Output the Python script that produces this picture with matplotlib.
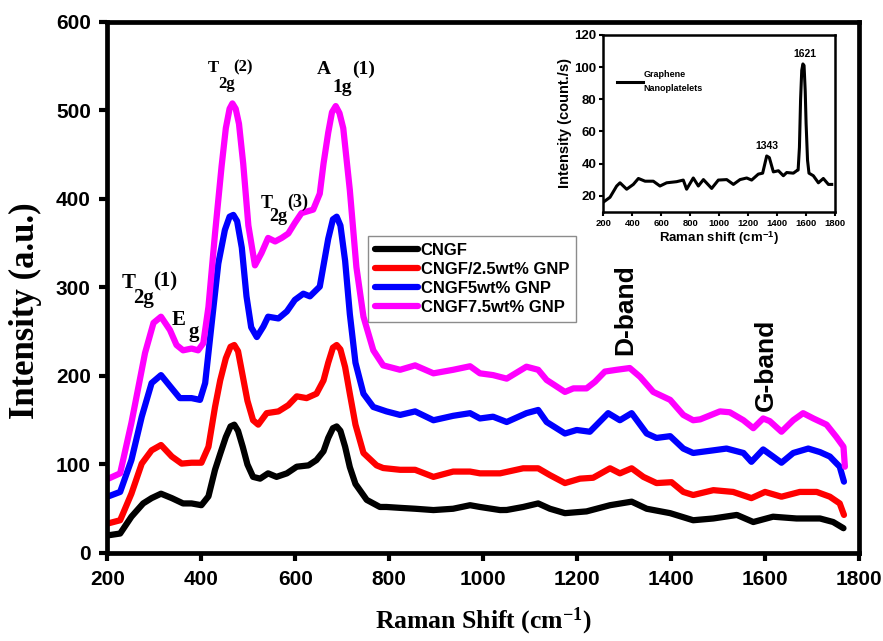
import matplotlib
matplotlib.use("Agg")
import matplotlib.pyplot as plt

SANS = ['Liberation Sans', 'DejaVu Sans']
SERIF = ['Liberation Serif', 'DejaVu Serif']
plt.rcParams['mathtext.fontset'] = 'custom'
plt.rcParams['mathtext.rm'] = 'Liberation Serif:bold'
plt.rcParams['mathtext.bf'] = 'Liberation Serif:bold'
plt.rcParams['mathtext.it'] = 'Liberation Serif:bold:italic'
plt.rcParams['mathtext.sf'] = 'Liberation Sans:bold'

# ---------------- data ----------------
cngf_x = [202,227,251,276,294,314,337,361,379,400,415,429,440,452,462,470,478,488,498,510,525,542,560,582,603,628,645,660,670,680,688,696,706,716,728,752,780,794,823,855,894,936,972,993,1036,1050,1085,1117,1142,1174,1220,1270,1316,1348,1398,1447,1490,1540,1575,1617,1667,1717,1745,1767]
cngf_y = [20,22,41,56,62,67,62,56,56,54,64,94,112,131,143,145,138,120,100,86,84,90,86,90,97.5,99,105,115,130,141,143,138,120,97,78,60,52,52,51,50,48.5,50,54,52,48.5,48.6,52,56,50,45,47,54,58,50,45,37,39,43,35,41,39,39,35,28]

gnp25_x = [202,227,251,273,294,314,337,358,379,400,415,429,440,452,462,470,478,488,498,510,521,539,564,585,603,624,645,660,670,680,688,696,706,716,728,745,773,787,823,855,894,936,972,993,1036,1085,1117,1142,1174,1206,1234,1270,1291,1316,1341,1369,1401,1426,1447,1490,1532,1571,1600,1635,1674,1710,1738,1759,1768]
gnp25_y = [33.5,37,67,101,116,122,109,101,102,102,120,165,195,220,233,235,228,200,172,150,145,158,160,167,177,175,180,195,215,232,235,230,210,180,145,113,99,96,94,94,86,92,92,90,90,95.7,95.7,88,79,84,85,95.7,90,95.7,86,79,80,69,65.5,71,69,62,69,63.6,69,69,63.6,56,43]

gnp5_x = [202,227,251,273,294,314,337,354,379,397,408,422,436,450,460,468,476,486,496,506,518,532,542,564,582,599,617,631,652,660,670,680,688,696,706,716,728,745,766,794,823,855,894,936,972,993,1021,1050,1092,1117,1135,1174,1199,1227,1266,1291,1316,1348,1369,1398,1426,1447,1490,1518,1554,1571,1596,1617,1635,1660,1692,1717,1738,1759,1768]
gnp5_y = [64,69,105,154,192,201,186,175,175,173,192,260,327,365,380,382,375,345,290,255,244,256,267,265,273,286,293,290,301,325,355,377,380,370,330,270,215,180,165,160,156,160,150,155,158,152,154,148,158,161.6,148,135,139,137,158,150,158,135,130,132,118,113,116,118,113,103,117,109,102,113,118,114,109,97.5,80.6]

gnp75_x = [202,227,251,280,298,314,333,347,361,379,393,404,415,429,443,452,460,466,473,480,489,500,514,528,542,557,571,585,599,613,638,652,660,670,678,686,694,702,716,730,745,766,787,823,855,894,936,972,993,1021,1050,1092,1117,1135,1174,1192,1220,1238,1259,1284,1312,1334,1362,1398,1426,1447,1462,1504,1525,1554,1575,1596,1610,1635,1660,1681,1703,1731,1752,1767,1770]
gnp75_y = [84,90,147,226,260,267,252,235,229,231,229,237,278,361,437,480,502,508,502,485,440,370,325,339,356,352,356,361,373,384,388,406,440,475,498,505,497,480,410,323,267,229,212,207,212,203,207,211,203,201,197,210.5,207,195.5,182,186,186,193.5,205,207,209,199,182,173,156,150,151,160,159,150,141,152,149,137,150,158,152,145,131,120,97.5]

inset_x = [205,246,292,315,361,407,442,488,545,591,637,706,752,775,821,856,891,948,994,1052,1098,1144,1190,1224,1270,1300,1328,1346,1374,1409,1443,1466,1512,1535,1545,1554,1562,1570,1578,1586,1594,1600,1610,1620,1650,1685,1719,1754,1777]
inset_y = [16.3,19,26,28,24,27,30.7,29,29,26,28,28.7,29.7,24,31,26,30,24.5,29.7,30,27,30,31,29.7,33.4,34,44.7,43.7,34.8,35.5,32.4,34.4,34,35.5,36,50,80,98,102,101,85,65,42,34,32.4,28,30.7,27,27]

series = [
    ("CNGF", cngf_x, cngf_y, "#000000"),
    ("CNGF/2.5wt% GNP", gnp25_x, gnp25_y, "#ff0000"),
    ("CNGF5wt% GNP", gnp5_x, gnp5_y, "#0000ff"),
    ("CNGF7.5wt% GNP", gnp75_x, gnp75_y, "#ff00ff"),
]
x_ticks = [200, 400, 600, 800, 1000, 1200, 1400, 1600, 1800]
y_ticks = [0, 100, 200, 300, 400, 500, 600]
inset_yticks = [20, 40, 60, 80, 100, 120]

# ---------------- figure ----------------
fig = plt.figure(figsize=(8.83, 6.41), dpi=100)
ax = fig.add_axes([0.1217, 0.1373, 0.8511, 0.8284])

for label, xs, ys, c in series:
    ax.plot(xs, ys, color=c, lw=4.5, label=label, solid_joinstyle='round', solid_capstyle='round')

ax.set_xlim(200, 1800)
ax.set_ylim(0, 600)
ax.set_xticks(x_ticks)
ax.set_yticks(y_ticks)
for s in ax.spines.values():
    s.set_linewidth(3.4)
ax.tick_params(direction='out', length=6, width=3, pad=6)
for t in ax.get_xticklabels() + ax.get_yticklabels():
    t.set_family(SANS)
    t.set_fontweight('bold')
    t.set_fontsize(15)

ax.set_xlabel("Raman Shift (cm$^{-1}$)", family=SERIF, fontweight='bold', fontsize=18.5, va='top')
ax.xaxis.set_label_coords(0.4997, -0.1)
ax.set_ylabel("Intensity (a.u.)", family=SERIF, fontweight='bold', fontsize=25)
ax.yaxis.set_label_coords(-0.0872, 0.456)

leg = fig.legend(loc='upper left', bbox_to_anchor=(0.4168, 0.6318), bbox_transform=fig.transFigure,
                 prop={'family': SANS, 'weight': 'bold', 'size': 12}, frameon=True, fancybox=False,
                 edgecolor='#707070', handlelength=2.6, handletextpad=0.15, labelspacing=0.25,
                 borderpad=0.4, borderaxespad=0)
leg.get_frame().set_linewidth(1.0)

# peak annotations (serif bold)
def ann(x, y, s, size):
    ax.text(x, y, s, ha='center', va='center', family=SERIF, fontweight='bold', fontsize=size)

ann(244, 305, "T", 15); ann(276, 288, "2g", 15); ann(322, 307, "(1)", 15)
ann(351, 263, "E", 15); ann(383, 250, "g", 15)
ann(425, 548, "T", 12); ann(454, 530, "2g", 12); ann(489, 549, "(2)", 12)
ann(661, 546, "A", 14); ann(699, 526, "1g", 14); ann(745, 547, "(1)", 14)
ann(539, 395, "T", 13); ann(564, 380, "2g", 13); ann(606, 396, "(3)", 13)

ax.text(1302, 275, "D-band", rotation=90, ha='center', va='center', family=SANS, fontweight='bold', fontsize=19)
ax.text(1602, 212, "G-band", rotation=90, ha='center', va='center', family=SANS, fontweight='bold', fontsize=19)

# ---------------- inset ----------------
ins = fig.add_axes([0.6833, 0.6697, 0.2624, 0.2757])
ins.plot(inset_x, inset_y, color='black', lw=2.2, label="Graphene\nNanoplatelets",
         solid_joinstyle='round')
ins.set_xlim(200, 1800)
ins.set_ylim(10, 120)
ins.set_xticks(x_ticks)
ins.set_yticks(inset_yticks)
for s in ins.spines.values():
    s.set_linewidth(1.8)
ins.tick_params(direction='out', length=3, width=1.5, pad=2)
for t in ins.get_xticklabels():
    t.set_family(SANS); t.set_fontweight('bold'); t.set_fontsize(6.8)
for t in ins.get_yticklabels():
    t.set_family(SANS); t.set_fontweight('bold'); t.set_fontsize(9.5)
ins.set_xlabel("Raman shift (cm$^{\\mathsf{-1}}$)", family=SANS, fontweight='bold', fontsize=9.5, labelpad=1)
ins.set_ylabel("Intensity (count./s)", family=SANS, fontweight='bold', fontsize=10.5, labelpad=2)
ins.text(1328, 51, "1343", ha='center', va='center', family=SANS, fontweight='bold', fontsize=7.5)
ins.text(1593, 108, "1621", ha='center', va='center', family=SANS, fontweight='bold', fontsize=7.5)
ileg = ins.legend(loc='upper left', bbox_to_anchor=(0.06, 0.80), frameon=False,
                  prop={'family': SANS, 'weight': 'bold', 'size': 6.5}, handlelength=2.8, handletextpad=0.1,
                  borderaxespad=0, borderpad=0)
for t in ileg.get_texts():
    t.set_linespacing(1.7)

fig.savefig("out.png", dpi=100)
